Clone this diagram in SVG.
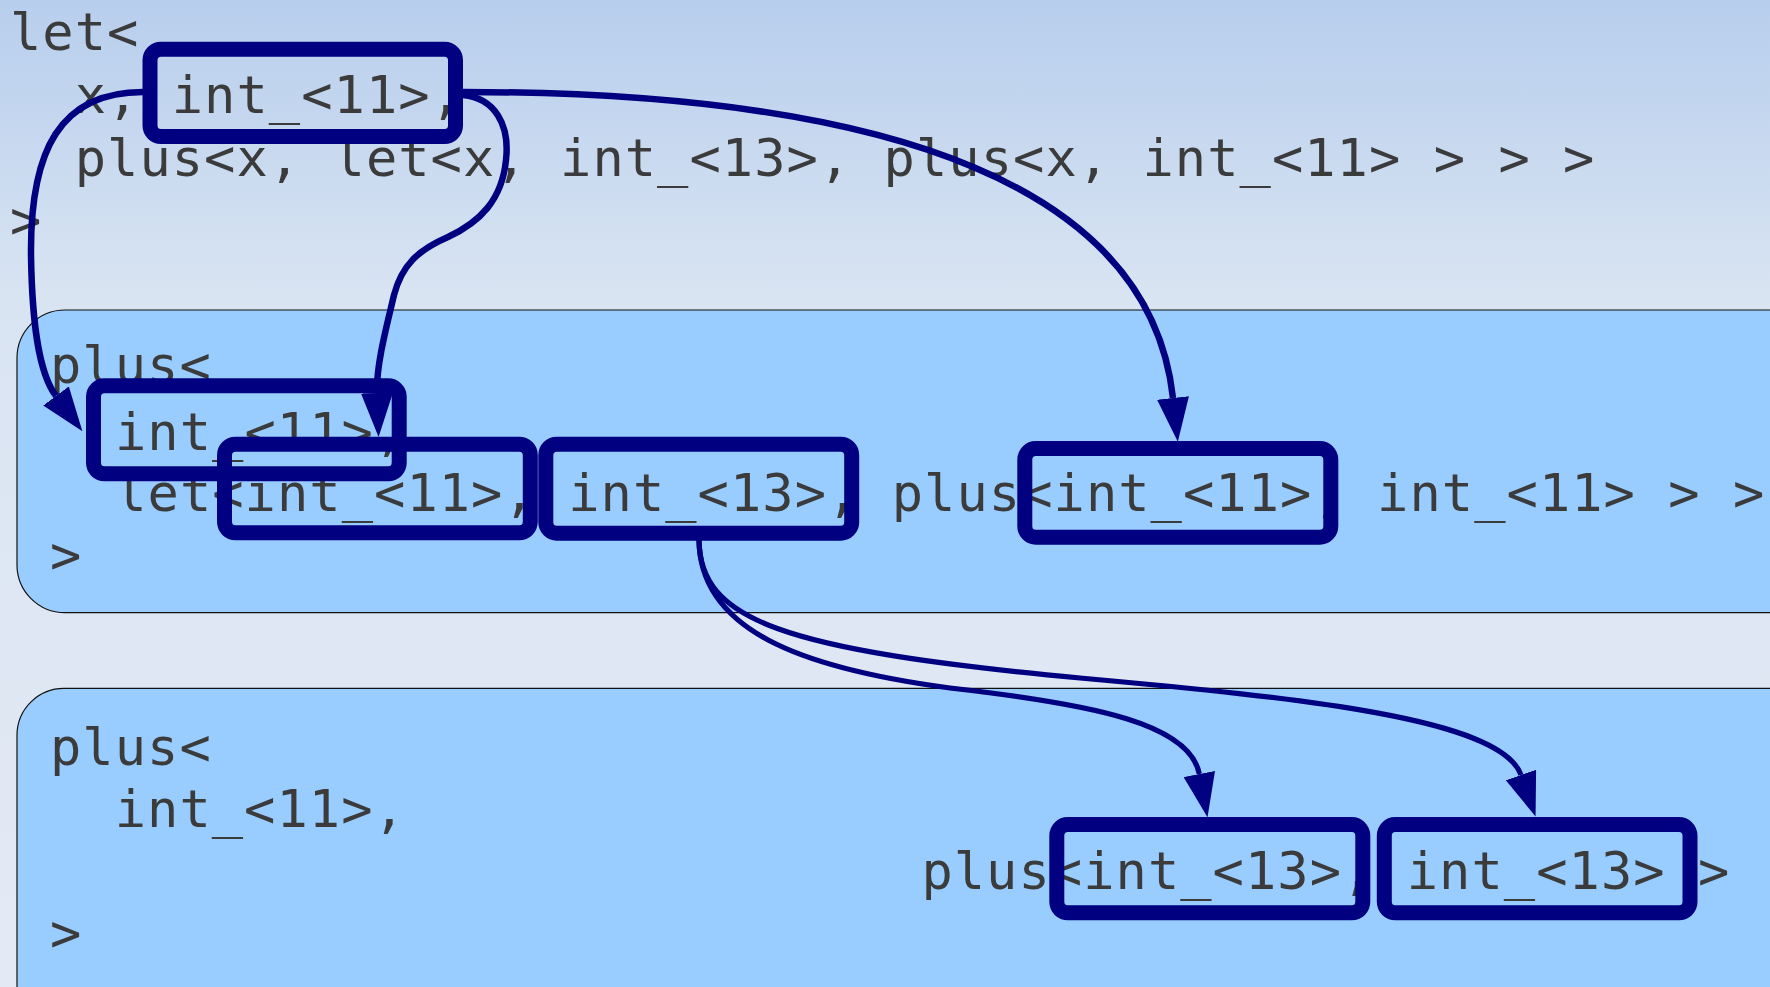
<svg xmlns="http://www.w3.org/2000/svg" width="1770" height="987" viewBox="0 0 1770 987">
<defs>
<linearGradient id="bg" x1="0" y1="0" x2="0" y2="987" gradientUnits="userSpaceOnUse">
<stop offset="0" stop-color="#b7ceed"/>
<stop offset="0.3" stop-color="#d9e4f2"/>
<stop offset="1" stop-color="#e4eaf5"/>
</linearGradient>
<marker id="ah" markerUnits="userSpaceOnUse" viewBox="0 0 44 32" markerWidth="44" markerHeight="32" refX="0" refY="16" orient="auto">
<path d="M0,0 L44,16 L0,32 Z" fill="#000080"/>
</marker>
</defs>
<style>
.code{font-family:"DejaVu Sans Mono",monospace;font-size:52px;letter-spacing:1.05px;fill:#3b3b3b;white-space:pre}
.panel{fill:#99ccff;stroke:#111;stroke-width:1.2}
.hl{fill:none;stroke:#000080;stroke-width:15}
.edge{fill:none;stroke:#000080;stroke-width:6.5;marker-end:url(#ah)}
.edge.thin{stroke-width:5.2}
</style>
<rect x="0" y="0" width="1770" height="987" fill="url(#bg)"/>

<g id="step0">
<text class="code" x="10" y="50">let&lt;</text>
<text class="code" x="74.7" y="113">x, int_&lt;11&gt;,</text>
<text class="code" x="74.7" y="175.5">plus&lt;x, let&lt;x, int_&lt;13&gt;, plus&lt;x, int_&lt;11&gt; &gt; &gt; &gt;</text>
<text class="code" x="10" y="238">&gt;</text>
</g>

<g id="step1">
<rect class="panel" x="17" y="310" width="1800" height="302.7" rx="48" ry="48"/>
<text class="code" x="50" y="383">plus&lt;</text>
<text class="code" x="115" y="449.5">int_&lt;11&gt;,</text>
<text class="code" x="115.2" y="511">let&lt;int_&lt;11&gt;, int_&lt;13&gt;, plus&lt;int_&lt;11&gt;, int_&lt;11&gt; &gt; &gt;</text>
<text class="code" x="50" y="572.5">&gt;</text>
</g>

<g id="step2">
<rect class="panel" x="17" y="688.3" width="1800" height="400" rx="47" ry="47"/>
<text class="code" x="50" y="765">plus&lt;</text>
<text class="code" x="114.7" y="827">int_&lt;11&gt;,</text>
<text class="code" x="921.4" y="888.5">plus&lt;int_&lt;13&gt;, int_&lt;13&gt; &gt;</text>
<text class="code" x="50" y="951">&gt;</text>
</g>

<g id="box-top-int11"><rect class="hl" x="150" y="49.2" width="305.5" height="87.4" rx="11"/></g>
<g id="box-mid-int11-a"><rect class="hl" x="93.5" y="385.8" width="305.7" height="88" rx="11"/></g>
<g id="box-mid-int11-b"><rect class="hl" x="224.5" y="444.2" width="305.8" height="88.6" rx="11"/></g>
<g id="box-mid-int13"><rect class="hl" x="545.8" y="444.2" width="305.9" height="89" rx="11"/></g>
<g id="box-mid-int11-c"><rect class="hl" x="1024.8" y="448.5" width="306" height="88.7" rx="11"/></g>
<g id="box-bot-int13-a"><rect class="hl" x="1056.8" y="824.5" width="306" height="88.3" rx="11"/></g>
<g id="box-bot-int13-b"><rect class="hl" x="1384.3" y="824.5" width="305.7" height="88.3" rx="11"/></g>

<g id="connectors">
<path class="edge" d="M143,92 C60,92 30,150 31,255 C32,320 38,372 56,396"/>
<path class="edge" d="M463,95 C495,98 510,125 506,160 C502,200 480,222 448,237 C418,250 402,265 394,295 C387,325 376,365 377,393"/>
<path class="edge" d="M463,92 C900,92 1150,190 1173,398"/>
<path class="edge thin" d="M699,540 C700,630 800,668 950,688 C1100,705 1190,725 1199.3,774"/>
<path class="edge thin" d="M699,540 C700,620 780,650 1080,678 C1300,698 1501,718 1521,775"/>
</g>
</svg>
